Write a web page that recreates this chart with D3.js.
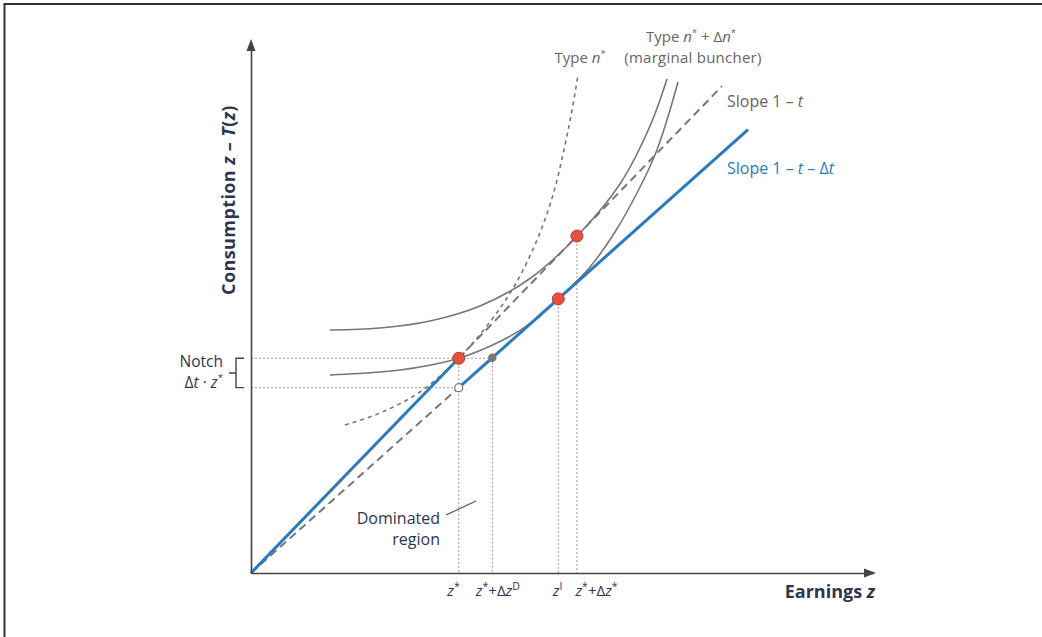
<!DOCTYPE html>
<html>
<head>
<meta charset="utf-8">
<script src="https://cdn.jsdelivr.net/npm/d3@7"></script>
<style>
  html, body { margin: 0; padding: 0; background: #fff; }
  svg { display: block; }
  text { font-family: "Open Sans", "Noto Sans", sans-serif; }
</style>
</head>
<body>
<svg id="chart" width="1042" height="637"></svg>
<script>
// ---- Data (earnings z on x, consumption z - T(z) on y, arbitrary units 0-100) ----
const zStar = 33.4;        // notch threshold z*
const zDominated = 38.8;   // z* + Δz^D
const zInterior = 49.4;    // z^I, marginal buncher's interior optimum
const zMarginal = 52.4;    // z* + Δz*
const slopeBase = 1.211;   // slope 1 - t
const slopeNotch = 1.045;  // slope 1 - t - Δt
const zBlueEnd = 79.9;
const zDashedEnd = 75.7;

// Indifference curve of type n* + Δn* (tangent to the 1 - t line at z* + Δz*)
const curveUpperZ = [12.7, 20.74, 28.78, 36.82, 44.86, 52.4, 59.32, 64.15, 66.88];
const curveUpperC = [45.76, 46.14, 47.46, 50.28, 55.46, 63.42, 73.26, 84.18, 93.03];

// Indifference curve of the marginal buncher (through the z* point, tangent at z^I)
const curveMarginalZ = [12.7, 20.74, 27.17, 33.4, 40.03, 44.86, 49.4, 54.5, 58.52, 62.22, 64.95, 66.88, 68.65];
const curveMarginalC = [37.29, 37.85, 38.8, 40.45, 43.6, 46.95, 51.62, 57.63, 64.22, 71.94, 78.72, 85.31, 92.47];

// Indifference curve of type n* (tangent to the 1 - t line at z*)
const curveTypeZ = [15.11, 20.74, 27.17, 33.4, 38.42, 42.44, 45.98, 48.55, 50.48, 51.61, 52.57];
const curveTypeC = [27.87, 30.13, 34.09, 40.45, 47.27, 54.24, 62.71, 71.19, 80.6, 87.19, 93.79];

// Tick labels on the earnings axis
const tickValues = [zStar, zDominated, zInterior, zMarginal];
const tickLabels = [
  [{t: "z", i: true}, {t: "*", sup: true}],
  [{t: "z", i: true}, {t: "*", sup: true}, {t: "+Δ"}, {t: "z", i: true}, {t: "D", sup: true}],
  [{t: "z", i: true}, {t: "I", sup: true}],
  [{t: "z", i: true}, {t: "*", sup: true}, {t: "+Δ"}, {t: "z", i: true}, {t: "*", sup: true}]
];

// ---- Setup ----
const svg = d3.select("#chart");
const x = d3.scaleLinear().domain([0, 100]).range([251, 873]);
const y = d3.scaleLinear().domain([0, 100]).range([573, 42]);

const GRAY = "#777";
const BLUE = "#2a7abd";
const NAVY = "#2e3550";
const LABEL_GRAY = "#666";

// Write text made of italic / superscript pieces into a <text> element
function rich(sel, parts, size, supScale = 0.62) {
  let raised = false;
  parts.forEach(p => {
    const ts = sel.append("tspan").text(p.t);
    if (p.i) ts.style("font-style", "italic");
    if (p.sup) {
      ts.style("font-size", (size * supScale) + "px");
      if (!raised) { ts.attr("dy", -size * 0.42); raised = true; }
    } else if (raised) {
      ts.attr("dy", size * 0.42);
      raised = false;
    }
  });
  return sel;
}

// Frame
svg.append("path")
  .attr("d", "M4.5,637V4H1042")
  .attr("fill", "none")
  .attr("stroke", "#333")
  .attr("stroke-width", 2);

// ---- Guides (dotted) ----
const guides = svg.append("g")
  .attr("stroke", "#999")
  .attr("stroke-width", 1)
  .attr("stroke-dasharray", "2,2")
  .attr("fill", "none");

guides.append("line")
  .attr("x1", x(0)).attr("x2", x(zDominated))
  .attr("y1", y(zStar * slopeBase)).attr("y2", y(zStar * slopeBase));
guides.append("line")
  .attr("x1", x(0)).attr("x2", x(zStar))
  .attr("y1", y(zStar * slopeNotch)).attr("y2", y(zStar * slopeNotch));

const verticals = [
  [zStar, zStar * slopeBase],
  [zDominated, zDominated * slopeNotch],
  [zInterior, zInterior * slopeNotch],
  [zMarginal, zMarginal * slopeBase]
];
verticals.forEach(([zv, cv]) => {
  guides.append("line")
    .attr("x1", x(zv)).attr("x2", x(zv))
    .attr("y1", y(cv)).attr("y2", y(0));
});

// ---- Dashed budget lines ----
const line = d3.line().x(d => x(d[0])).y(d => y(d[1]));

svg.append("path")
  .datum([[0, 0], [zStar, zStar * slopeNotch]])
  .attr("d", line)
  .attr("fill", "none").attr("stroke", GRAY)
  .attr("stroke-width", 2).attr("stroke-dasharray", "8,5");

svg.append("path")
  .datum([[zStar, zStar * slopeBase], [zDashedEnd, zDashedEnd * slopeBase]])
  .attr("d", line)
  .attr("fill", "none").attr("stroke", GRAY)
  .attr("stroke-width", 2).attr("stroke-dasharray", "8,5");

// ---- Indifference curves ----
const smooth = d3.line().x(d => x(d[0])).y(d => y(d[1])).curve(d3.curveCatmullRom.alpha(0.5));

svg.append("path")
  .datum(d3.zip(curveTypeZ, curveTypeC))
  .attr("d", smooth)
  .attr("fill", "none").attr("stroke", GRAY)
  .attr("stroke-width", 1.6).attr("stroke-dasharray", "4,4");

svg.append("path")
  .datum(d3.zip(curveUpperZ, curveUpperC))
  .attr("d", smooth)
  .attr("fill", "none").attr("stroke", GRAY).attr("stroke-width", 1.6);

svg.append("path")
  .datum(d3.zip(curveMarginalZ, curveMarginalC))
  .attr("d", smooth)
  .attr("fill", "none").attr("stroke", GRAY).attr("stroke-width", 1.6);

// ---- Notched budget set (blue) ----
svg.append("path")
  .datum([[0, 0], [zStar, zStar * slopeBase]])
  .attr("d", line)
  .attr("fill", "none").attr("stroke", BLUE).attr("stroke-width", 3);

svg.append("path")
  .datum([[zStar, zStar * slopeNotch], [zBlueEnd, zBlueEnd * slopeNotch]])
  .attr("d", line)
  .attr("fill", "none").attr("stroke", BLUE).attr("stroke-width", 3);

// ---- Axes ----
const xAxis = svg.append("g")
  .attr("transform", `translate(0,${y(0)})`)
  .call(d3.axisBottom(x).tickValues(tickValues).tickSize(0).tickSizeOuter(0).tickFormat(() => ""));
xAxis.select(".domain").attr("stroke", "#444").attr("stroke-width", 1.6);

const tickNudge = [-12, -17, -6, -2];
xAxis.selectAll(".tick text")
  .attr("fill", NAVY)
  .attr("text-anchor", "start")
  .attr("y", 23)
  .attr("dy", 0)
  .style("font-size", "15px")
  .each(function(d, i) {
    d3.select(this).attr("x", tickNudge[i]);
    rich(d3.select(this), tickLabels[i], 15, 0.7);
  });

const yAxis = svg.append("g")
  .attr("transform", `translate(${x(0)},0)`)
  .call(d3.axisLeft(y).tickValues([]).tickSizeOuter(0));
yAxis.select(".domain").attr("stroke", "#444").attr("stroke-width", 1.6);

// Arrowheads
svg.append("path")
  .attr("d", `M${x(100) + 3},${y(0)} L${x(100) - 9},${y(0) - 4.5} L${x(100) - 9},${y(0) + 4.5} Z`)
  .attr("fill", "#444");
svg.append("path")
  .attr("d", `M${x(0)},${y(100) - 3} L${x(0) - 4.5},${y(100) + 9} L${x(0) + 4.5},${y(100) + 9} Z`)
  .attr("fill", "#444");

// Axis titles
rich(svg.append("text")
  .attr("x", 875).attr("y", 598)
  .attr("text-anchor", "end")
  .attr("fill", NAVY)
  .style("font-size", "18px").style("font-weight", "bold"),
  [{t: "Earnings "}, {t: "z", i: true}], 18);

rich(svg.append("text")
  .attr("transform", "translate(235,200) rotate(-90)")
  .attr("text-anchor", "middle")
  .attr("fill", NAVY)
  .style("font-size", "18px").style("font-weight", "bold").style("letter-spacing", "0.4px"),
  [{t: "Consumption "}, {t: "z", i: true}, {t: " – "}, {t: "T", i: true}, {t: "("}, {t: "z", i: true}, {t: ")"}], 18);

// ---- Points ----
const pts = svg.append("g");
[[zStar, zStar * slopeBase], [zInterior, zInterior * slopeNotch], [zMarginal, zMarginal * slopeBase]]
  .forEach(([zp, cp]) => {
    pts.append("circle").attr("cx", x(zp)).attr("cy", y(cp)).attr("r", 6)
      .attr("fill", "#e5513c").attr("stroke", "#b83a2a").attr("stroke-width", 1);
  });
pts.append("circle")
  .attr("cx", x(zDominated)).attr("cy", y(zDominated * slopeNotch)).attr("r", 4.2)
  .attr("fill", "#777");
pts.append("circle")
  .attr("cx", x(zStar)).attr("cy", y(zStar * slopeNotch)).attr("r", 4)
  .attr("fill", "#fff").attr("stroke", "#777").attr("stroke-width", 1.2);

// ---- Notch bracket ----
const yTop = y(zStar * slopeBase), yBot = y(zStar * slopeNotch), yMid = (yTop + yBot) / 2;
svg.append("path")
  .attr("d", `M244,${yTop}H236V${yBot}H244M236,${yMid}H229`)
  .attr("fill", "none").attr("stroke", "#444").attr("stroke-width", 1.4);

rich(svg.append("text").attr("x", 223).attr("y", yTop + 9)
  .attr("text-anchor", "end").attr("fill", NAVY).style("font-size", "15.5px"),
  [{t: "Notch"}], 15.5);
rich(svg.append("text").attr("x", 223).attr("y", yBot + 0)
  .attr("text-anchor", "end").attr("fill", NAVY).style("font-size", "15.5px"),
  [{t: "Δ"}, {t: "t", i: true}, {t: " · "}, {t: "z", i: true}, {t: "*", sup: true}], 15.5);

// ---- Dominated region annotation ----
svg.append("line")
  .attr("x1", x(31.35)).attr("y1", y(10.92))
  .attr("x2", x(36.17)).attr("y2", y(13.56))
  .attr("stroke", "#555").attr("stroke-width", 1.2);
svg.append("text").attr("x", 440).attr("y", 524)
  .attr("text-anchor", "end").attr("fill", NAVY).style("font-size", "16px")
  .text("Dominated");
svg.append("text").attr("x", 440).attr("y", 545)
  .attr("text-anchor", "end").attr("fill", NAVY).style("font-size", "16px")
  .text("region");

// ---- Curve and line labels ----
rich(svg.append("text").attr("x", 580).attr("y", 63)
  .attr("text-anchor", "middle").attr("fill", LABEL_GRAY).style("font-size", "15px"),
  [{t: "Type "}, {t: "n", i: true}, {t: "*", sup: true}], 15);
rich(svg.append("text").attr("x", 691).attr("y", 42)
  .attr("text-anchor", "middle").attr("fill", LABEL_GRAY).style("font-size", "15px"),
  [{t: "Type "}, {t: "n", i: true}, {t: "*", sup: true}, {t: " + Δ"}, {t: "n", i: true}, {t: "*", sup: true}], 15);
svg.append("text").attr("x", 693).attr("y", 63)
  .attr("text-anchor", "middle").attr("fill", LABEL_GRAY).style("font-size", "15px")
  .style("letter-spacing", "0.25px")
  .text("(marginal buncher)");
rich(svg.append("text").attr("x", 727).attr("y", 107)
  .attr("fill", LABEL_GRAY).style("font-size", "16px"),
  [{t: "Slope 1 – "}, {t: "t", i: true}], 16);
rich(svg.append("text").attr("x", 727).attr("y", 174)
  .attr("fill", BLUE).style("font-size", "16px"),
  [{t: "Slope 1 – "}, {t: "t", i: true}, {t: " – Δ"}, {t: "t", i: true}], 16);
</script>
</body>
</html>
